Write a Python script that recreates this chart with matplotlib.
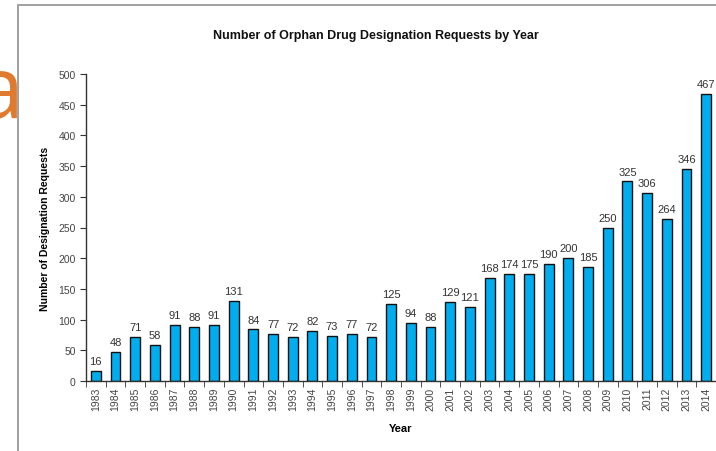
import matplotlib
matplotlib.use("Agg")
from matplotlib import pyplot as plt
from matplotlib.patches import Rectangle
import numpy as np

years = [str(y) for y in range(1983, 2015)]
requests = [16, 48, 71, 58, 91, 88, 91, 131, 84, 77, 72, 82, 73, 77, 72, 125,
            94, 88, 129, 121, 168, 174, 175, 190, 200, 185, 250, 325, 306, 264,
            346, 467]
y_ticks = [0, 50, 100, 150, 200, 250, 300, 350, 400, 450, 500]

plt.rcParams["font.family"] = ["Liberation Sans", "DejaVu Sans"]

fig = plt.figure(figsize=(7.16, 4.52), dpi=100)
ax = fig.add_axes([86 / 716, 1 - 382 / 452, 1 - 86 / 716, (382 - 75) / 452])

x = np.arange(len(years))
ax.bar(x, requests, width=0.5, color="#00AEEF", edgecolor="#111111", linewidth=1.0)

for xi, v in zip(x, requests):
    ax.text(xi, v + 8, str(v), ha="center", va="bottom", fontsize=8, color="#333333")

ax.set_xlim(-0.5, len(years) - 0.5)
ax.set_ylim(0, 500)
ax.set_yticks(y_ticks)
ax.set_yticklabels([str(t) for t in y_ticks], fontsize=7.5, color="#444444")

# category labels centred, tick marks between categories
ax.set_xticks(x)
ax.set_xticklabels(years, rotation=90, fontsize=7.5, color="#444444")
ax.tick_params(axis="x", which="major", length=0, pad=4)
ax.set_xticks(np.arange(-0.5, len(years), 1), minor=True)
ax.tick_params(axis="x", which="minor", length=4, color="#333333", direction="out")
ax.tick_params(axis="y", length=4, color="#333333", direction="out")

for side in ["top", "right"]:
    ax.spines[side].set_visible(False)
for side in ["left", "bottom"]:
    ax.spines[side].set_color("#333333")
    ax.spines[side].set_linewidth(1.0)

ax.set_xlabel("Year", fontsize=8, fontweight="bold", labelpad=9)
ax.set_ylabel("Number of Designation Requests", fontsize=7.5, fontweight="bold", labelpad=6)

fig.text(376 / 716, 1 - 36 / 452, "Number of Orphan Drug Designation Requests by Year",
         ha="center", va="center", fontsize=9, fontweight="bold", color="#111111")

# frame of the embedded chart
fig.patches.append(Rectangle((18 / 716, -0.1), 1.2, 1 - 6 / 452 + 0.1,
                             transform=fig.transFigure, fill=False,
                             edgecolor="#999999", linewidth=1.3))

# cut-off slide text on the left
fig.text(24 / 716, 1 - 118 / 452, "a", ha="right", va="baseline", fontsize=62,
         color="#E07A2F", family=["Open Sans", "DejaVu Sans"])

fig.savefig("out.png", dpi=100)
